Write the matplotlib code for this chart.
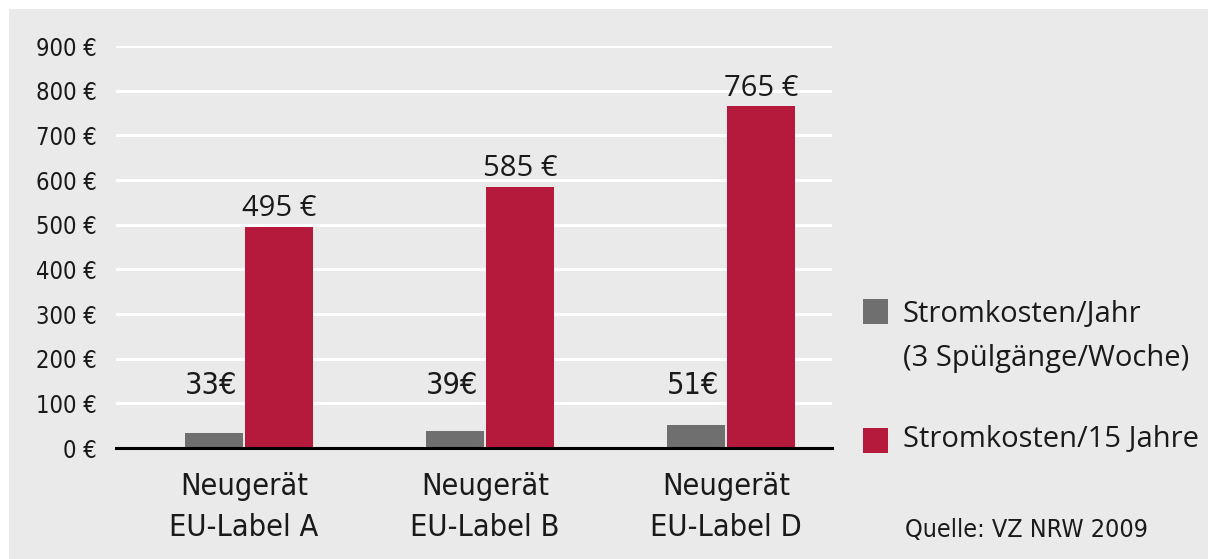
import matplotlib.pyplot as plt
import matplotlib.patches as mpatches
import numpy as np

# Daten
kategorien = ['Neugerät\nEU-Label A', 'Neugerät\nEU-Label B', 'Neugerät\nEU-Label D']
kosten_jahr = [33, 39, 51]
kosten_15 = [495, 585, 765]
yticks = [0, 100, 200, 300, 400, 500, 600, 700, 800, 900]
legende = ['Stromkosten/Jahr\n(3 Spülgänge/Woche)', 'Stromkosten/15 Jahre']
quelle = 'Quelle: VZ NRW 2009'

grau = '#6f6f6f'
rot = '#b51a3c'
hintergrund = '#eaeaea'
normal = ['Open Sans', 'DejaVu Sans']
eng = dict(family='DejaVu Sans', stretch='condensed')

W, H = 1208, 559
fig = plt.figure(figsize=(W / 100, H / 100), dpi=100)
fig.patch.set_facecolor('white')
fig.patches.append(mpatches.Rectangle((9 / W, 0), 1, 1 - 9 / H, transform=fig.transFigure,
                                      facecolor=hintergrund, edgecolor='none', zorder=-10))

ax = fig.add_axes([116 / W, (H - 448) / H, (832 - 116) / W, (448 - 46) / H])
ax.patch.set_alpha(0)

x = np.arange(len(kategorien))
b_grau = 0.237
b_rot = 0.28
luecke = 0.012
ax.bar(x - luecke / 2 - b_grau / 2, kosten_jahr, width=b_grau, color=grau, zorder=3)
ax.bar(x + luecke / 2 + b_rot / 2, kosten_15, width=b_rot, color=rot, zorder=3)

for i in range(len(x)):
    ax.text(x[i] - luecke / 2 - b_grau / 2 - 0.01, 108, '{}€'.format(kosten_jahr[i]),
            ha='center', va='bottom', fontsize=22, color='#1a1a1a', **eng)
    ax.text(x[i] + luecke / 2 + b_rot / 2, kosten_15[i] + 8, '{} €'.format(kosten_15[i]),
            ha='center', va='bottom', fontsize=21, family=normal, color='#1a1a1a')

ax.set_xlim(-0.531, 2.440)
ax.set_ylim(0, 900)
ax.set_yticks(yticks)
ax.set_yticklabels(['{} €'.format(v) for v in yticks], fontsize=17, color='#1a1a1a', **eng)
ax.set_xticks(x)
ax.set_xticklabels(kategorien, fontsize=22, color='#1a1a1a', linespacing=1.55, **eng)
ax.tick_params(axis='y', length=0, pad=14)
ax.tick_params(axis='x', length=0, pad=17)
ax.grid(axis='y', color='white', linewidth=2.2, zorder=0)
for s in ['top', 'right', 'left']:
    ax.spines[s].set_visible(False)
ax.spines['bottom'].set_linewidth(2.2)
ax.spines['bottom'].set_color('black')
ax.spines['bottom'].set_zorder(4)

# Legende
for farbe, y in [(grau, 311), (rot, 440)]:
    fig.patches.append(mpatches.Rectangle((863 / W, (H - y - 13) / H), 25 / W, 25 / H,
                                          transform=fig.transFigure, facecolor=farbe, edgecolor='none'))
fig.text(903 / W, (H - 300) / H, legende[0], family=normal, fontsize=21, color='#1a1a1a',
         va='top', linespacing=1.68)
fig.text(903 / W, (H - 440) / H, legende[1], family=normal, fontsize=21, color='#1a1a1a', va='center')
fig.text(905 / W, (H - 530) / H, quelle, fontsize=18, color='#1a1a1a', va='center', **eng)

plt.savefig('out.png', dpi=100)
